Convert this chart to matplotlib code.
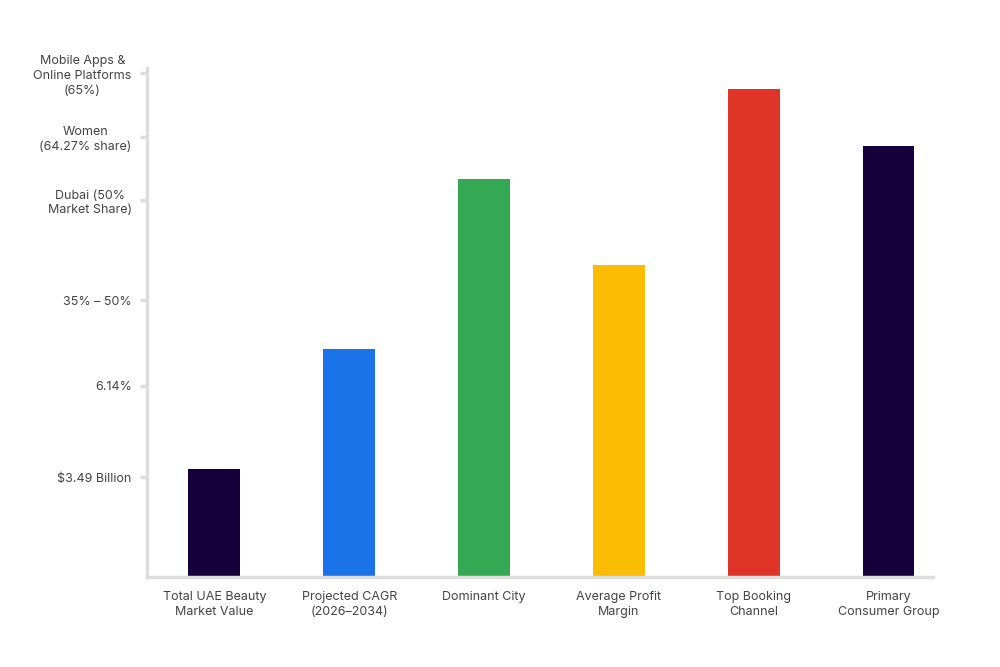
import matplotlib.pyplot as plt

# categories and bar heights (relative scale)
categories = ["Total UAE Beauty\nMarket Value", "Projected CAGR\n(2026\u20132034)", "Dominant City",
              "Average Profit\nMargin", "Top Booking\nChannel", "Primary\nConsumer Group"]
values = [21.6, 45.7, 79.8, 62.5, 97.8, 86.4]
colors = ["#16003b", "#1a73e8", "#34a853", "#fbbc04", "#de3428", "#16003b"]

# y ticks carry the text answers
tick_values = [20.0, 38.3, 55.5, 75.5, 88.2, 101.0]
tick_labels = ["$3.49 Billion", "6.14%", "35% \u2013 50%", "Dubai (50%\nMarket Share)",
               "Women\n(64.27% share)", "Mobile Apps &\nOnline Platforms\n(65%)"]

plt.rcParams['font.family'] = ['Inter', 'DejaVu Sans']

fig = plt.figure(figsize=(10, 6.67), dpi=100)
ax = fig.add_axes([0.147, 0.135, 0.786, 0.763])

x = range(len(categories))
ax.bar(x, values, width=0.385, color=colors)

ax.set_xlim(-0.5, 5.33)
ax.set_ylim(0, 102)

ax.set_xticks(list(x))
ax.set_xticklabels(categories, fontsize=9, color="#444444", linespacing=1.3)
ax.set_yticks(tick_values)
ax.set_yticklabels(tick_labels, fontsize=9, color="#444444", linespacing=1.3)
for lab in ax.get_yticklabels():
    lab.set_multialignment('center')

ax.tick_params(axis='x', length=0, pad=10)
ax.tick_params(axis='y', length=5, width=2.5, color="#dddddd", pad=6)

for side in ['top', 'right']:
    ax.spines[side].set_visible(False)
for side in ['left', 'bottom']:
    ax.spines[side].set_color("#dddddd")
    ax.spines[side].set_linewidth(2.5)

fig.savefig("out.png", dpi=100, facecolor="white")
